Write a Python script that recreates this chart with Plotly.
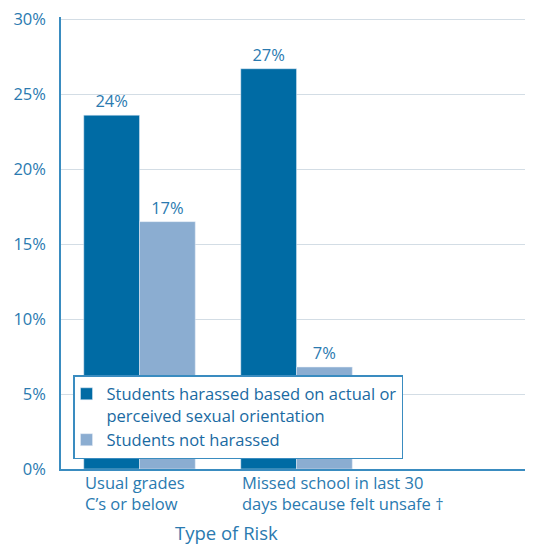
import plotly.graph_objects as go

categories = ["Usual grades<br>C’s or below", "Missed school in last 30<br>days because felt unsafe †"]
harassed = [23.6, 26.7]
not_harassed = [16.5, 6.8]
series_names = ["Students harassed based on actual or<br>perceived sexual orientation", "Students not harassed"]
y_ticks = [0, 5, 10, 15, 20, 25, 30]
y_tick_labels = ["0%", "5%", "10%", "15%", "20%", "25%", "30%"]
axis_title = "Type of Risk"

DARK = "#006ba4"
LIGHT = "#8badd1"
TEXT = "#2a7ab0"
FONT = "Open Sans"
FS = 16.5

xs = [0, 1]

fig = go.Figure()
fig.add_trace(go.Bar(x=xs, y=harassed, name=series_names[0], marker_color=DARK,
                     texttemplate="%{y:.0f}%", textposition="outside",
                     textfont=dict(size=FS, color=TEXT, family=FONT), cliponaxis=False))
fig.add_trace(go.Bar(x=xs, y=not_harassed, name=series_names[1], marker_color=LIGHT,
                     texttemplate="%{y:.0f}%", textposition="outside",
                     textfont=dict(size=FS, color=TEXT, family=FONT), cliponaxis=False))

annotations = []
for i, lab in enumerate(categories):
    annotations.append(dict(x=i - 0.36, xref="x", y=0.0, yref="paper", xanchor="left", yanchor="top",
                            text=lab, align="left", showarrow=False,
                            font=dict(size=FS, color=TEXT, family=FONT)))
annotations.append(dict(x=0.344, xref="paper", y=-0.141, yref="paper", xanchor="center", yanchor="middle",
                        text=axis_title, showarrow=False, font=dict(size=18.5, color=TEXT, family=FONT)))

fig.update_layout(
    width=533, height=537,
    margin=dict(l=53, r=0, t=8.75, b=76),
    paper_bgcolor="white", plot_bgcolor="white",
    barmode="group", bargap=0.29, bargroupgap=0,
    font=dict(family=FONT, color=TEXT, size=FS),
    showlegend=True,
    legend=dict(x=0.025, y=0.022, xanchor="left", yanchor="bottom",
                bgcolor="white", bordercolor="#3a8cc0", borderwidth=1.5,
                font=dict(size=FS, color="#1a6aa2", family=FONT),
                valign="top", traceorder="normal", itemwidth=30, tracegroupgap=0,
                indentation=-8),
    xaxis=dict(range=[-0.5, 2.557], showticklabels=False, showgrid=False, zeroline=False,
               showline=True, linecolor="#3a8cc0", linewidth=1.5, fixedrange=True),
    yaxis=dict(range=[0, 30.15], tickmode="array", tickvals=y_ticks, ticktext=y_tick_labels,
               showgrid=True, gridcolor="#d3dde5", gridwidth=1, zeroline=False,
               showline=True, linecolor="#3a8cc0", linewidth=1.5,
               ticks="outside", ticklen=10, tickcolor="rgba(0,0,0,0)",
               ticklabeloverflow="allow",
               tickfont=dict(size=FS, color=TEXT, family=FONT)),
    annotations=annotations,
)

fig.write_html("out.html")
